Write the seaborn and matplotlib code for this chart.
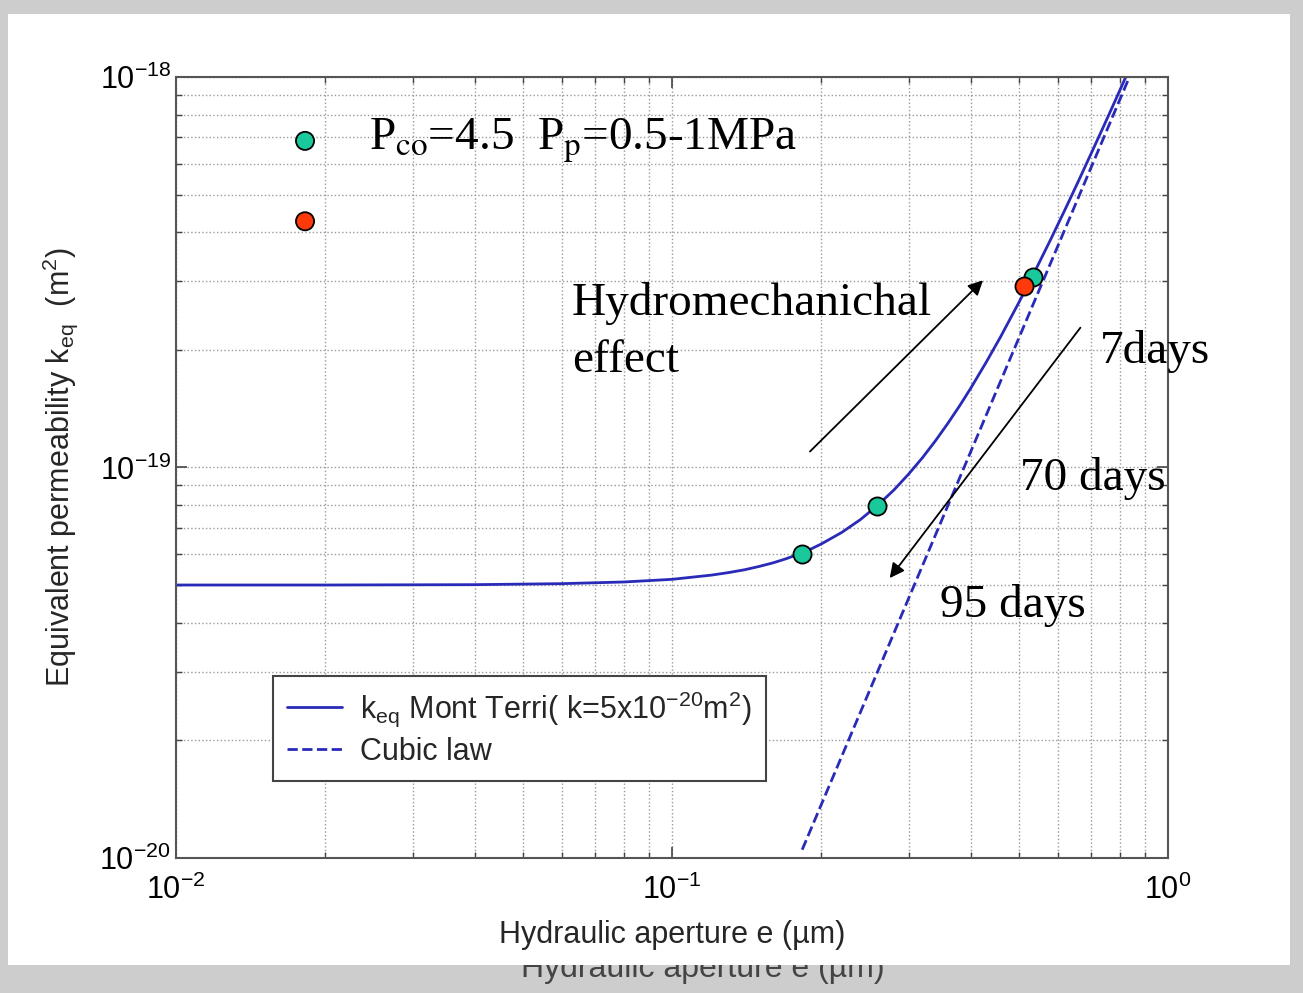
import matplotlib
matplotlib.use('Agg')
import matplotlib.pyplot as plt
from matplotlib.patches import Rectangle
import pandas as pd
import seaborn as sns

# model curve k_eq (aperture in um, permeability in m2)
aperture = [0.01, 0.02, 0.04, 0.06, 0.08, 0.10, 0.12, 0.13, 0.14, 0.15, 0.16,
            0.17, 0.18, 0.19, 0.20, 0.22, 0.24, 0.26, 0.28, 0.30, 0.32, 0.34,
            0.36, 0.38, 0.40, 0.43, 0.46, 0.50, 0.54, 0.58, 0.62, 0.66, 0.70,
            0.74, 0.78, 0.822]
k_eq = [5.00e-20, 5.00e-20, 5.01e-20, 5.04e-20, 5.09e-20, 5.17e-20, 5.30e-20,
        5.38e-20, 5.47e-20, 5.58e-20, 5.70e-20, 5.84e-20, 6.00e-20, 6.17e-20,
        6.37e-20, 6.82e-20, 7.36e-20, 8.01e-20, 8.75e-20, 9.62e-20, 1.060e-19,
        1.172e-19, 1.298e-19, 1.438e-19, 1.594e-19, 1.860e-19, 2.164e-19,
        2.64e-19, 3.193e-19, 3.836e-19, 4.575e-19, 5.416e-19, 6.37e-19,
        7.429e-19, 8.615e-19, 1.00e-18]

# cubic law (straight line in log-log)
cubic_e = [0.183, 0.836]
cubic_k = [1.05e-20, 1.00e-18]

# measured points
green_e = [0.183, 0.259, 0.535]
green_k = [6.02e-20, 7.99e-20, 3.07e-19]
red_e = [0.513]
red_k = [2.92e-19]

# marker "legend" at top left
key_e = [0.0182, 0.0182]
key_k = [6.86e-19, 4.27e-19]

sns.set_style('ticks')
plt.rcParams['font.family'] = ['Liberation Sans', 'DejaVu Sans']
plt.rcParams['mathtext.fontset'] = 'custom'
plt.rcParams['mathtext.rm'] = 'Liberation Sans'
plt.rcParams['mathtext.it'] = 'Liberation Sans'
plt.rcParams['mathtext.default'] = 'regular'

fig = plt.figure(figsize=(13.03, 9.93), dpi=100)
fig.patch.set_facecolor('#cdcdcd')

# white slide area and the cut-off ghost label below it
fig.text(0.539, 0.024, 'Hydraulic aperture e (\u00b5m)', ha='center', va='center',
         fontsize=23, color='#444444', zorder=0.5)
fig.patches.append(Rectangle((0.006, 0.0282), 0.984, 0.9577, transform=fig.transFigure,
                             facecolor='white', edgecolor='none', zorder=1))

ax = fig.add_axes([0.1351, 0.1360, 0.7613, 0.7865])
ax.set_zorder(2)
ax.set_facecolor('white')
ax.set_xscale('log')
ax.set_yscale('log')

blue = '#2a2ab8'
curve = pd.DataFrame({'e': aperture, 'k': k_eq})
cubic = pd.DataFrame({'e': cubic_e, 'k': cubic_k})
sns.lineplot(data=curve, x='e', y='k', color=blue, lw=2.0, sort=False,
             estimator=None, ax=ax, label=r'k$_{eq}$ Mont Terri( k=5x10$^{-20}$m$^2$)')
sns.lineplot(data=cubic, x='e', y='k', color=blue, lw=2.0, ls='--', sort=False,
             estimator=None, ax=ax, label='Cubic law')

green = '#19c99c'
red = '#ff3a0a'
sns.scatterplot(x=green_e, y=green_k, color=green, edgecolor='black', linewidth=1.3,
                s=170, zorder=5, ax=ax, legend=False)
sns.scatterplot(x=red_e, y=red_k, color=red, edgecolor='black', linewidth=1.3,
                s=170, zorder=5, ax=ax, legend=False)
sns.scatterplot(x=key_e, y=key_k, hue=['a', 'b'], palette=[green, red],
                edgecolor='black', linewidth=1.3, s=170, zorder=5, ax=ax, legend=False)

ax.set_xlim(1e-2, 1)
ax.set_ylim(1e-20, 1e-18)

ax.grid(True, which='both', color='#9a9a9a', ls=':', lw=1.0)
ax.tick_params(which='both', direction='in', top=True, right=True, colors='#444444',
               labelcolor='black', labelsize=22)
ax.tick_params(which='major', length=8, width=1.2)
ax.tick_params(which='minor', length=4, width=1.0)
ax.tick_params(axis='x', pad=12)
for s in ax.spines.values():
    s.set_color('#555555')
    s.set_linewidth(1.5)

ax.set_xlabel('Hydraulic aperture e (\u00b5m)', fontsize=22, labelpad=10)
ax.set_ylabel(r'Equivalent permeability k$_{eq}$  (m$^2$)', fontsize=22, labelpad=14)

leg = ax.legend(handles=ax.lines[:2], loc='lower left', bbox_to_anchor=(0.098, 0.099),
                borderaxespad=0, fontsize=22, frameon=True, fancybox=False, framealpha=1,
                edgecolor='#444444', borderpad=0.45, handlelength=1.8,
                handletextpad=0.6, labelspacing=0.25)
leg.get_frame().set_linewidth(1.5)

serif = dict(family=['Liberation Serif', 'DejaVu Serif'], math_fontfamily='stix',
             color='black')
ax.text(0.0245, 6.86e-19, r'P$_{\mathrm{co}}$=4.5  P$_{\mathrm{p}}$=0.5-1MPa',
        fontsize=34, va='center', ha='left', **serif)
ax.text(0.0628, 2.22e-19, 'Hydromechanichal\neffect', fontsize=34, va='center',
        ha='left', linespacing=1.45, **serif)
ax.text(0.729, 1.98e-19, '7days', fontsize=34, va='center', ha='left', **serif)
ax.text(0.503, 9.37e-20, '70 days', fontsize=34, va='center', ha='left', **serif)
ax.text(0.347, 4.44e-20, '95 days', fontsize=34, va='center', ha='left', **serif)

arrow = dict(arrowstyle='-|>', color='black', lw=1.3, mutation_scale=22)
ax.annotate('', xy=(0.4275, 3.05e-19), xytext=(0.188, 1.086e-19), arrowprops=arrow)
ax.annotate('', xy=(0.2726, 5.14e-20), xytext=(0.671, 2.31e-19), arrowprops=arrow)

fig.savefig('out.png', dpi=100, facecolor=fig.get_facecolor())
